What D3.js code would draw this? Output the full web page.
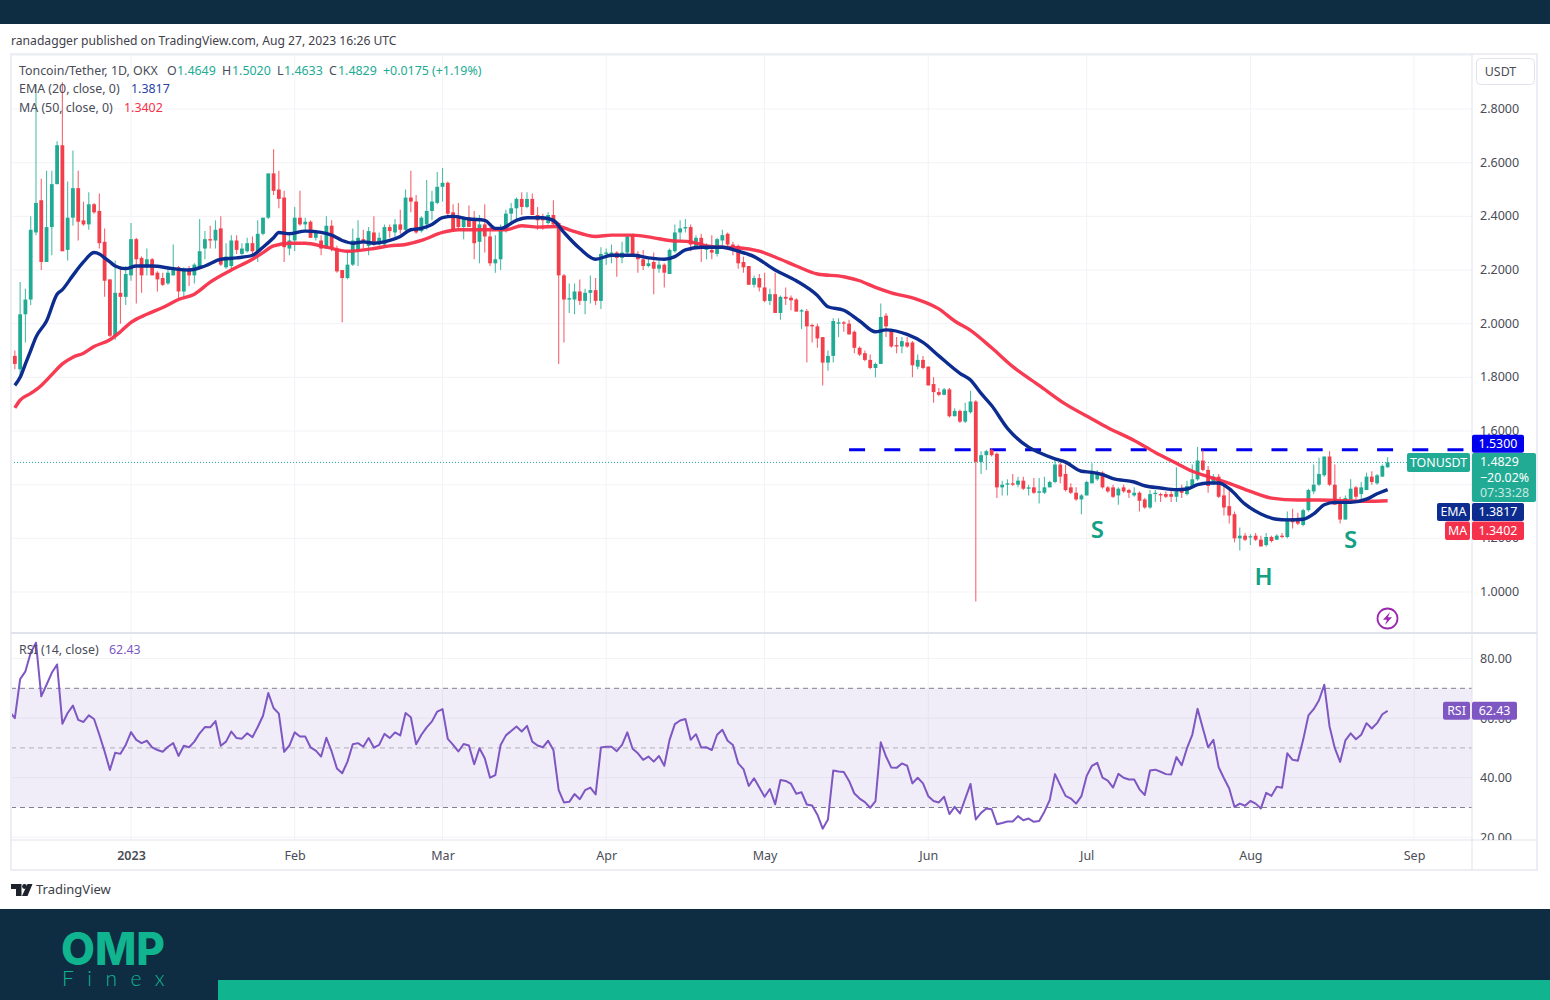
<!DOCTYPE html>
<html lang="en">
<head>
<meta charset="utf-8">
<title>TONUSDT</title>
<script src="https://d3js.org/d3.v7.min.js"></script>
<style>
  html, body { margin: 0; background: #fff; }
  svg { display: block; }
  text { font-family: "Noto Sans", sans-serif; }
</style>
</head>
<body>
<svg width="1550" height="1000"></svg>
<script>
// days are counted from 1 Jan 2023, the first candle is 10 Dec 2022
var firstDay = -22;
var opens = [
1.88,1.83,2.035,2.09,2.34,2.46,2.23,2.36,2.52,2.665,
2.275,2.395,2.505,2.385,2.37,2.445,2.42,2.305,2.165,1.955,
2.115,2.10,2.18,2.315,2.245,2.21,2.24,2.19,2.17,2.15,
2.18,2.21,2.12,2.205,2.18,2.21,2.28,2.315,2.31,2.355,
2.21,2.215,2.31,2.26,2.27,2.30,2.27,2.335,2.395,2.56,
2.50,2.47,2.28,2.31,2.395,2.37,2.38,2.32,2.31,2.28,
2.365,2.28,2.20,2.17,2.22,2.27,2.315,2.29,2.34,2.295,
2.295,2.36,2.34,2.37,2.35,2.47,2.455,2.345,2.37,2.42,
2.45,2.51,2.525,2.415,2.395,2.36,2.395,2.385,2.305,2.37,
2.325,2.225,2.24,2.355,2.41,2.43,2.465,2.435,2.465,2.405,
2.395,2.375,2.405,2.375,2.18,2.09,2.09,2.12,2.085,2.115,
2.125,2.085,2.26,2.26,2.265,2.245,2.265,2.33,2.26,2.24,
2.215,2.23,2.205,2.22,2.185,2.27,2.34,2.355,2.36,2.285,
2.32,2.275,2.275,2.26,2.31,2.335,2.295,2.29,2.23,2.215,
2.145,2.17,2.135,2.085,2.11,2.04,2.10,2.097,2.09,2.045,
2.047,1.995,1.99,1.95,1.855,1.88,2.0,2.005,2.0,1.97,
1.91,1.89,1.865,1.835,1.85,2.03,1.975,1.92,1.915,1.93,
1.93,1.84,1.865,1.84,1.775,1.745,1.735,1.755,1.655,1.675,
1.635,1.67,1.71,1.485,1.51,1.53,1.515,1.39,1.40,1.405,
1.40,1.415,1.385,1.39,1.37,1.37,1.39,1.41,1.475,1.44,
1.39,1.37,1.345,1.36,1.405,1.42,1.445,1.39,1.39,1.36,
1.39,1.38,1.36,1.37,1.345,1.315,1.365,1.365,1.365,1.365,
1.355,1.385,1.365,1.395,1.42,1.49,1.455,1.405,1.43,1.36,
1.32,1.29,1.20,1.21,1.205,1.21,1.195,1.175,1.205,1.195,
1.21,1.205,1.275,1.273,1.25,1.305,1.375,1.40,1.435,1.505,
1.40,1.335,1.27,1.345,1.39,1.365,1.38,1.43,1.405,1.43,
1.4649];
var highs = [
1.90,2.155,2.13,2.40,2.89,2.54,2.57,2.57,2.68,2.90,
2.53,2.645,2.57,2.455,2.49,2.45,2.485,2.355,2.165,2.235,
2.215,2.215,2.375,2.32,2.25,2.28,2.245,2.195,2.19,2.21,
2.295,2.215,2.21,2.215,2.225,2.39,2.345,2.365,2.385,2.40,
2.30,2.33,2.33,2.30,2.32,2.325,2.385,2.395,2.56,2.65,
2.57,2.495,2.33,2.435,2.495,2.395,2.385,2.35,2.33,2.40,
2.385,2.29,2.20,2.265,2.355,2.385,2.35,2.36,2.40,2.34,
2.37,2.37,2.39,2.425,2.50,2.57,2.48,2.40,2.535,2.495,
2.565,2.58,2.53,2.445,2.45,2.40,2.44,2.42,2.405,2.445,
2.36,2.33,2.37,2.425,2.45,2.47,2.49,2.49,2.485,2.435,
2.41,2.415,2.46,2.38,2.185,2.15,2.15,2.165,2.13,2.18,
2.17,2.285,2.28,2.295,2.27,2.305,2.33,2.335,2.27,2.275,
2.245,2.265,2.235,2.225,2.28,2.37,2.385,2.39,2.37,2.33,
2.335,2.30,2.33,2.32,2.35,2.34,2.305,2.295,2.25,2.215,
2.18,2.185,2.19,2.13,2.19,2.105,2.135,2.105,2.095,2.055,
2.055,2.0,2.0,1.95,1.90,2.02,2.02,2.01,2.015,1.975,
1.915,1.90,1.885,1.855,2.075,2.04,1.98,1.95,1.95,1.95,
1.935,1.885,1.88,1.84,1.80,1.76,1.76,1.76,1.685,1.68,
1.705,1.75,1.715,1.525,1.53,1.535,1.52,1.415,1.42,1.44,
1.43,1.43,1.40,1.425,1.425,1.43,1.415,1.50,1.495,1.475,
1.405,1.39,1.365,1.415,1.48,1.455,1.45,1.395,1.40,1.39,
1.40,1.385,1.39,1.375,1.35,1.38,1.38,1.37,1.375,1.385,
1.465,1.40,1.415,1.475,1.54,1.53,1.47,1.44,1.44,1.40,
1.38,1.30,1.24,1.22,1.215,1.22,1.21,1.22,1.21,1.215,
1.22,1.30,1.31,1.295,1.31,1.385,1.475,1.50,1.505,1.525,
1.475,1.355,1.36,1.42,1.395,1.41,1.445,1.45,1.44,1.475,
1.502];
var lows = [
1.83,1.80,1.93,2.07,2.33,2.20,2.23,2.255,2.52,2.27,
2.235,2.365,2.31,2.365,2.35,2.41,2.28,2.10,1.95,1.94,
2.0,2.07,2.16,2.075,2.115,2.18,2.18,2.12,2.14,2.145,
2.18,2.09,2.10,2.14,2.15,2.205,2.24,2.28,2.28,2.215,
2.205,2.20,2.26,2.255,2.265,2.25,2.23,2.33,2.39,2.48,
2.43,2.23,2.255,2.27,2.365,2.345,2.32,2.31,2.255,2.28,
2.27,2.19,2.005,2.165,2.215,2.215,2.28,2.255,2.29,2.29,
2.29,2.32,2.32,2.335,2.345,2.415,2.335,2.34,2.35,2.385,
2.445,2.455,2.405,2.345,2.355,2.315,2.36,2.24,2.225,2.265,
2.215,2.19,2.20,2.34,2.37,2.39,2.405,2.43,2.405,2.35,
2.35,2.37,2.365,1.85,1.93,2.04,2.035,2.07,2.035,2.075,
2.07,2.055,2.22,2.225,2.175,2.225,2.26,2.25,2.19,2.20,
2.21,2.11,2.19,2.135,2.185,2.265,2.305,2.34,2.27,2.28,
2.23,2.24,2.24,2.25,2.28,2.275,2.255,2.205,2.19,2.145,
2.135,2.12,2.08,2.07,2.04,2.015,2.07,2.05,2.045,1.98,
1.855,1.93,1.91,1.77,1.825,1.855,1.95,1.97,1.96,1.89,
1.88,1.86,1.83,1.80,1.85,1.95,1.91,1.89,1.89,1.91,
1.80,1.83,1.83,1.77,1.705,1.73,1.733,1.65,1.655,1.63,
1.63,1.665,0.965,1.44,1.455,1.505,1.35,1.36,1.36,1.395,
1.39,1.38,1.36,1.365,1.33,1.365,1.39,1.405,1.405,1.375,
1.365,1.34,1.29,1.36,1.405,1.415,1.385,1.37,1.35,1.325,
1.37,1.35,1.355,1.30,1.31,1.31,1.335,1.335,1.35,1.335,
1.335,1.35,1.36,1.39,1.415,1.45,1.37,1.40,1.35,1.285,
1.255,1.185,1.155,1.19,1.175,1.19,1.17,1.17,1.185,1.195,
1.20,1.20,1.237,1.25,1.245,1.30,1.365,1.395,1.43,1.395,
1.325,1.255,1.27,1.345,1.335,1.335,1.38,1.40,1.40,1.43,
1.4633];
var closes = [
1.85,2.035,2.09,2.35,2.45,2.23,2.36,2.52,2.665,2.27,
2.395,2.505,2.38,2.37,2.445,2.415,2.30,2.16,1.955,2.115,
2.10,2.185,2.315,2.24,2.18,2.24,2.18,2.165,2.145,2.19,
2.21,2.12,2.205,2.18,2.22,2.27,2.315,2.31,2.35,2.22,
2.25,2.31,2.275,2.28,2.30,2.27,2.335,2.395,2.56,2.495,
2.465,2.285,2.31,2.395,2.37,2.38,2.32,2.34,2.28,2.365,
2.28,2.195,2.17,2.22,2.31,2.32,2.30,2.345,2.295,2.32,
2.36,2.345,2.37,2.35,2.47,2.455,2.34,2.395,2.42,2.455,
2.51,2.525,2.41,2.35,2.36,2.395,2.36,2.30,2.37,2.325,
2.225,2.24,2.355,2.41,2.43,2.465,2.435,2.465,2.405,2.385,
2.385,2.405,2.37,2.18,2.09,2.095,2.12,2.085,2.115,2.125,
2.085,2.26,2.265,2.265,2.245,2.265,2.325,2.255,2.24,2.215,
2.225,2.205,2.22,2.19,2.275,2.34,2.355,2.36,2.295,2.32,
2.29,2.29,2.265,2.315,2.33,2.295,2.285,2.225,2.21,2.145,
2.17,2.135,2.085,2.11,2.04,2.10,2.093,2.087,2.045,2.05,
1.99,1.99,1.945,1.855,1.88,2.01,2.005,2.0,1.96,1.91,
1.885,1.865,1.835,1.85,2.025,1.99,1.915,1.915,1.935,1.915,
1.845,1.865,1.835,1.77,1.745,1.735,1.755,1.655,1.675,1.635,
1.675,1.71,1.485,1.51,1.525,1.51,1.39,1.40,1.405,1.40,
1.415,1.385,1.39,1.37,1.375,1.39,1.41,1.475,1.43,1.38,
1.37,1.345,1.36,1.41,1.445,1.44,1.39,1.375,1.355,1.385,
1.375,1.37,1.37,1.34,1.315,1.365,1.37,1.36,1.355,1.355,
1.375,1.37,1.395,1.42,1.49,1.455,1.395,1.43,1.355,1.315,
1.285,1.20,1.21,1.195,1.208,1.195,1.17,1.205,1.19,1.21,
1.205,1.275,1.26,1.255,1.305,1.38,1.40,1.44,1.505,1.40,
1.325,1.27,1.35,1.385,1.355,1.39,1.43,1.41,1.435,1.47,
1.4829];

var emaDays = [-22,-21,-20,-19,-18,-16,-14,-13,-11,-9,-7,-6,-5,-4,-3,-1,1,4,8,11,14,17,20,23,25,27,28,30,33,36,38,40,42,44,46,49,51,53,55,57,59,61,64,67,69,70,73,75,78,80,82,85,88,91,95,98,101,103,105,108,112,115,118,122,126,130,132,135,138,141,143,147,150,153,157,159,161,163,166,170,172,175,177,180,182,184,186,190,192,195,198,200,202,204,206,208,211,214,217,219,222,224,226,228,231,234,236,238];
var emaValues = [1.77,1.80,1.85,1.90,1.95,2.01,2.11,2.127,2.18,2.23,2.265,2.26,2.245,2.23,2.215,2.205,2.215,2.215,2.205,2.20,2.215,2.24,2.245,2.255,2.285,2.32,2.34,2.335,2.345,2.34,2.33,2.31,2.30,2.305,2.30,2.31,2.325,2.35,2.355,2.37,2.395,2.40,2.39,2.385,2.355,2.355,2.385,2.395,2.395,2.385,2.34,2.28,2.24,2.255,2.255,2.245,2.24,2.25,2.275,2.285,2.285,2.27,2.25,2.20,2.16,2.105,2.063,2.05,2.01,1.97,1.977,1.96,1.93,1.88,1.815,1.79,1.74,1.695,1.61,1.54,1.52,1.496,1.484,1.45,1.446,1.4375,1.4225,1.41,1.396,1.3875,1.381,1.384,1.40,1.406,1.406,1.385,1.3275,1.291,1.271,1.269,1.271,1.291,1.325,1.334,1.334,1.346,1.366,1.3817];
var maDays = [-22,-21,-19,-17,-15,-13,-11,-9,-7,-4,-2,0,3,6,9,12,15,19,23,25,27,30,33,37,41,46,49,52,55,59,62,67,71,74,77,81,83,88,91,95,99,102,106,109,112,115,119,123,126,130,135,138,141,144,149,153,156,159,163,167,172,177,182,185,190,194,198,201,204,208,212,216,221,225,230,234,238];
var maValues = [1.686,1.715,1.74,1.77,1.81,1.85,1.875,1.89,1.915,1.94,1.97,2.005,2.035,2.06,2.09,2.11,2.155,2.20,2.24,2.265,2.29,2.30,2.30,2.285,2.27,2.28,2.29,2.295,2.31,2.34,2.35,2.35,2.35,2.365,2.36,2.362,2.35,2.325,2.33,2.33,2.32,2.31,2.305,2.29,2.285,2.283,2.27,2.24,2.215,2.185,2.175,2.16,2.135,2.115,2.09,2.055,2.01,1.975,1.91,1.84,1.77,1.70,1.645,1.6125,1.565,1.52,1.48,1.45,1.43,1.405,1.375,1.35,1.343,1.343,1.34,1.338,1.3402];

// RSI starts one day before the first full candle, that point sits at the chart edge
var rsiFirstDay = -23;
var rsiValues = [
62.2,60,73.1,75.7,81.9,85.3,67.3,71.2,75.2,78,58.1,61.7,64.2,59.4,58.7,60.9,59.7,54.4,48.8,42.6,
48.4,48,51,55.3,52.7,51.6,52.4,50.2,49.3,48.7,50.4,51.6,47.3,50.7,50.2,52.1,54.9,57,56.9,59,
50.7,52.1,55.5,53.3,53.1,54.9,53.6,57,60.8,68.4,63.4,61.5,48.7,50.8,55.2,53.8,53.8,50.2,49.1,47.1,
53.4,48.8,43.1,41.5,45.4,51.2,51.6,50.4,53.3,50.1,51,54.7,53.3,55.2,54.2,61.7,60.3,51.2,54.4,56.9,
58.9,62.2,63,53,51,48.8,51.3,50.8,44.5,49.9,46.5,40,40.9,51,54.2,55.7,57.2,55.5,57.4,52.1,
50.8,50.2,52.4,49.3,35.8,31.7,31.9,34.5,32.8,35.8,36.7,34.4,50.1,50.4,50.4,48.9,51,55.2,49.7,48.2,
46,47.1,45.4,47.3,44,52.7,58,59.2,59.7,52.7,54.6,50.1,50.2,49.3,54.4,56.1,52.4,51,44.8,42.9,
37.2,39.8,36.7,33.6,36.2,31.1,39.2,38.9,37.9,34.6,35.1,31,30.7,27.6,22.9,26,42.4,42.1,41.9,38.9,
34.7,33,31.8,29.9,32.1,51.9,47.1,43.4,43.3,44.8,44,38.1,40,38.1,33.8,32.2,31.7,33.6,27.8,30.2,
28,33,37.9,26,28.2,29.7,29.4,24.4,24.8,25.3,25.3,27.1,25.7,26.3,25.2,25.5,28.6,32.5,41.2,37.5,
33.9,33,31.3,33.8,40.6,44,45,40,39,36.7,41.3,40,39.4,39.4,36.1,34.2,42.4,42.7,42,41.2,
41.1,46.9,44.2,49.9,54.4,63.1,56.6,50.2,52.7,43.5,39.8,36.4,30.2,31.3,30.6,32.2,31.3,29.7,34.9,33.9,
37,36.6,48.2,46,45.7,52.7,60.9,63,66,71.2,57.2,49.9,45.3,52.5,54.9,52.9,54.4,58.3,56.5,58.3,
61.3,62.43];

var monthDays = [0,31,59,90,120,151,181,212,243];
var monthLabels = ["2023","Feb","Mar","Apr","May","Jun","Jul","Aug","Sep"];
var priceTicks = [1.0,1.2,1.4,1.6,1.8,2.0,2.2,2.4,2.6,2.8];
var rsiTicks = [20,40,60,80];
var rsiLevels = [70,50,30];
var resistance = 1.53, resistanceFrom = 136, resistanceTo = 252.8;
var lastClose = 1.4829, lastEma = 1.3817, lastMa = 1.3402, lastRsi = 62.43;

var teal = "#22ab94", red = "#f23f4b", navy = "#0c2d8f", maRed = "#f5304a", purple = "#7e57c2";
var ink = "#4a4c57", gridCol = "#f2f3f7", lineCol = "#e0e3eb", dark = "#0e2d42", brand = "#10b48f";

var L = 11, R = 1472, frameR = 1537, priceTop = 54, priceBottom = 632, rsiTop = 634, rsiBottom = 840, frameBottom = 870;

var x = d3.scaleLinear().domain([-22.73, 253.98]).range([L, R]);
var y = d3.scaleLinear().domain([0.851, 3.005]).range([priceBottom, priceTop]);
var yr = d3.scaleLinear().domain([30 - (rsiBottom - 807.5) / 2.98, 30 + (807.5 - rsiTop) / 2.98]).range([rsiBottom, rsiTop]);

var svg = d3.select("svg");
var defs = svg.append("defs");
defs.append("clipPath").attr("id", "pricePane").append("rect").attr("x", L).attr("y", priceTop).attr("width", R - L).attr("height", priceBottom - priceTop);
defs.append("clipPath").attr("id", "rsiPane").append("rect").attr("x", L).attr("y", rsiTop).attr("width", R - L).attr("height", rsiBottom - rsiTop);
defs.append("clipPath").attr("id", "rsiAxis").append("rect").attr("x", 0).attr("y", rsiTop).attr("width", frameR - R).attr("height", rsiBottom - rsiTop);

// page bands
svg.append("rect").attr("width", 1550).attr("height", 24).attr("fill", dark);
svg.append("rect").attr("y", 909).attr("width", 1550).attr("height", 91).attr("fill", dark);
svg.append("rect").attr("x", 218).attr("y", 980).attr("width", 1332).attr("height", 20).attr("fill", brand);
svg.append("text").attr("x", 61).attr("y", 965).attr("font-size", 45).attr("font-weight", 800).attr("fill", brand)
  .style("font-family", "Inter").attr("textLength", 104).attr("lengthAdjust", "spacingAndGlyphs").text("OMP");
svg.append("text").attr("x", 62).attr("y", 986).attr("font-size", 21).attr("font-weight", 300).attr("fill", brand)
  .attr("letter-spacing", 13.5).style("font-family", "Lato").text("Finex");

svg.append("text").attr("x", 11).attr("y", 45).attr("font-size", 12.15).attr("fill", "#3f414b")
  .text("ranadagger published on TradingView.com, Aug 27, 2023 16:26 UTC");

// grid
var grid = svg.append("g");
grid.selectAll(".v").data(monthDays).enter().append("line")
  .attr("x1", function (d) { return x(d); }).attr("x2", function (d) { return x(d); })
  .attr("y1", priceTop).attr("y2", rsiBottom).attr("stroke", gridCol);
grid.selectAll(".h").data(priceTicks.concat([3.0])).enter().append("line")
  .attr("x1", L).attr("x2", R)
  .attr("y1", function (d) { return y(d); }).attr("y2", function (d) { return y(d); }).attr("stroke", gridCol);
grid.selectAll(".r").data(rsiTicks).enter().append("line")
  .attr("x1", L).attr("x2", R)
  .attr("y1", function (d) { return yr(d); }).attr("y2", function (d) { return yr(d); }).attr("stroke", gridCol);

// rsi band, levels and line
var rsiG = svg.append("g").attr("clip-path", "url(#rsiPane)");
rsiG.append("rect").attr("x", L).attr("width", R - L).attr("y", yr(70)).attr("height", yr(30) - yr(70)).attr("fill", purple).attr("fill-opacity", 0.11);
rsiG.selectAll(".lvl").data(rsiLevels).enter().append("line")
  .attr("x1", L).attr("x2", R)
  .attr("y1", function (d) { return yr(d); }).attr("y2", function (d) { return yr(d); })
  .attr("stroke", "#787b86").attr("stroke-dasharray", "5 4").attr("stroke-opacity", function (d) { return d == 50 ? 0.55 : 0.95; });
rsiG.append("path").datum(rsiValues)
  .attr("fill", "none").attr("stroke", purple).attr("stroke-width", 2).attr("stroke-linejoin", "round")
  .attr("d", d3.line().x(function (d, i) { return x(rsiFirstDay + i); }).y(function (d) { return yr(d); }));

// price pane
var g = svg.append("g").attr("clip-path", "url(#pricePane)");
g.append("line").attr("x1", L).attr("x2", R).attr("y1", y(lastClose)).attr("y2", y(lastClose))
  .attr("stroke", teal).attr("stroke-dasharray", "1 2");
g.append("line").attr("x1", x(resistanceFrom)).attr("x2", x(resistanceTo)).attr("y1", y(resistance)).attr("y2", y(resistance))
  .attr("stroke", "#0000ee").attr("stroke-width", 3).attr("stroke-dasharray", "16 19.2");

var days = opens.map(function (d, i) { return firstDay + i; });
var candle = g.selectAll(".candle").data(days).enter().append("g").attr("class", "candle");
function colour(d) { var i = d - firstDay; return closes[i] >= opens[i] ? teal : red; }
candle.append("line")
  .attr("x1", function (d) { return x(d); }).attr("x2", function (d) { return x(d); })
  .attr("y1", function (d) { return y(highs[d - firstDay]); })
  .attr("y2", function (d) { return y(lows[d - firstDay]); })
  .attr("stroke", colour).attr("stroke-width", 1.1).attr("stroke-opacity", 0.8);
candle.append("rect")
  .attr("x", function (d) { return x(d) - 1.9; }).attr("width", 3.8)
  .attr("y", function (d) { var i = d - firstDay; return y(Math.max(opens[i], closes[i])); })
  .attr("height", function (d) { var i = d - firstDay; return Math.max(1.2, Math.abs(y(opens[i]) - y(closes[i]))); })
  .attr("fill", colour);

var avgLine = d3.line().curve(d3.curveMonotoneX).x(function (d) { return x(d[0]); }).y(function (d) { return y(d[1]); });
g.append("path").datum(d3.zip(maDays, maValues)).attr("fill", "none").attr("stroke", maRed).attr("stroke-width", 3.4).attr("stroke-opacity", 0.95).attr("d", avgLine);
g.append("path").datum(d3.zip(emaDays, emaValues)).attr("fill", "none").attr("stroke", navy).attr("stroke-width", 3.4).attr("d", avgLine);

// head and shoulders letters, placed on the price and day they were drawn at
var notes = [["S", 183, 1.225], ["H", 214.5, 1.05], ["S", 231, 1.19]];
svg.selectAll(".note").data(notes).enter().append("text")
  .attr("x", function (d) { return x(d[1]); }).attr("y", function (d) { return y(d[2]); })
  .attr("text-anchor", "middle").attr("dominant-baseline", "middle")
  .attr("font-size", 24).attr("font-weight", 600).attr("fill", "#13a085")
  .text(function (d) { return d[0]; });

// lightning badge
var badge = svg.append("g").attr("transform", "translate(1387.5,618.5)");
badge.append("circle").attr("r", 10).attr("fill", "#fff").attr("stroke", "#9c27b0").attr("stroke-width", 1.8);
badge.append("path").attr("d", "M2.5,-6.5 L-4.5,1.2 L-0.5,1.2 L-2.5,6.5 L4.5,-1.2 L0.5,-1.2 Z").attr("fill", "#9c27b0");

// frame lines
svg.append("rect").attr("x", L).attr("y", priceTop).attr("width", frameR - L).attr("height", frameBottom - priceTop).attr("fill", "none").attr("stroke", "#eceef3").attr("stroke-width", 2);
svg.append("line").attr("x1", L).attr("x2", frameR).attr("y1", 633).attr("y2", 633).attr("stroke", lineCol).attr("stroke-width", 2);
svg.append("line").attr("x1", L).attr("x2", frameR).attr("y1", rsiBottom).attr("y2", rsiBottom).attr("stroke", lineCol);
svg.append("line").attr("x1", R).attr("x2", R).attr("y1", priceTop).attr("y2", frameBottom).attr("stroke", lineCol);

// axes
function plainAxis(sel) {
  sel.select(".domain").remove();
  sel.selectAll("text").attr("fill", ink).attr("font-size", 12.5).style("font-family", '"Noto Sans", sans-serif');
}
svg.append("g").attr("transform", "translate(" + R + ",-0.5)")
  .call(d3.axisRight(y).tickValues(priceTicks).tickFormat(d3.format(".4f")).tickSize(0).tickPadding(8))
  .call(plainAxis);
svg.append("g").attr("transform", "translate(" + R + ",0)").attr("clip-path", "url(#rsiAxis)")
  .call(d3.axisRight(yr).tickValues(rsiTicks).tickFormat(d3.format(".2f")).tickSize(0).tickPadding(8))
  .call(plainAxis);
svg.append("g").attr("transform", "translate(0," + rsiBottom + ")")
  .call(d3.axisBottom(x).tickValues(monthDays).tickFormat(function (d, i) { return monthLabels[i]; }).tickSize(0).tickPadding(11))
  .call(plainAxis)
  .selectAll("text").attr("font-weight", function (d) { return d == 0 ? 600 : 400; });

// legend rows
function legendRow(yPos, parts) {
  parts.forEach(function (p) {
    svg.append("text").attr("x", p[0]).attr("y", yPos + 1.5).attr("dominant-baseline", "middle")
      .attr("font-size", 12.4).attr("fill", p[2]).text(p[1]);
  });
}
legendRow(70, [[19, "Toncoin/Tether, 1D, OKX", ink], [167, "O", ink], [177, "1.4649", teal], [222, "H", ink], [232, "1.5020", teal], [277, "L", ink], [284, "1.4633", teal], [329, "C", ink], [338, "1.4829", teal], [383, "+0.0175 (+1.19%)", teal]]);
legendRow(88.5, [[19, "EMA (20, close, 0)", ink], [131, "1.3817", "#2a45a5"]]);
legendRow(107, [[19, "MA (50, close, 0)", ink], [124, "1.3402", maRed]]);
legendRow(649, [[19, "RSI (14, close)", ink], [109, "62.43", purple]]);

// USDT button
svg.append("rect").attr("x", 1476.5).attr("y", 58.5).attr("width", 58).attr("height", 26).attr("rx", 4).attr("fill", "#fff").attr("stroke", lineCol);
svg.append("text").attr("x", 1500.5).attr("y", 73).attr("text-anchor", "middle").attr("dominant-baseline", "middle").attr("font-size", 12.4).attr("fill", ink).text("USDT");

// price tags on the axis
function tag(left, top, w, h, fill, label) {
  svg.append("rect").attr("x", left).attr("y", top).attr("width", w).attr("height", h).attr("rx", 2).attr("fill", fill);
  if (label) svg.append("text").attr("x", left + w / 2).attr("y", top + h / 2 + 1).attr("text-anchor", "middle")
    .attr("dominant-baseline", "middle").attr("font-size", 12.4).attr("fill", "#fff").text(label);
}
tag(R, y(resistance) - 15, 52, 18, "#0000ee", d3.format(".4f")(resistance));
tag(1407, y(lastClose) - 9.5, 63, 19, teal, "TONUSDT");
tag(R, y(lastClose) - 9.5, 64, 49, teal);
[["1.4829", 0.5, 1], ["\u221220.02%", 16, 1], ["07:33:28", 31.5, 0.75]].forEach(function (t) {
  svg.append("text").attr("x", 1480).attr("y", y(lastClose) + t[1]).attr("dominant-baseline", "middle")
    .attr("font-size", 12.4).attr("fill", "#fff").attr("fill-opacity", t[2]).text(t[0]);
});
// EMA and MA tags are stacked below the price block, not on their own values
tag(1437, 503, 33, 18, navy, "EMA");
tag(R, 503, 52, 18, navy, d3.format(".4f")(lastEma));
tag(1445, 521.5, 25, 18.5, maRed, "MA");
tag(R, 521.5, 52, 18.5, maRed, d3.format(".4f")(lastMa));
tag(1443, yr(lastRsi) - 9, 27, 18, purple, "RSI");
tag(R, yr(lastRsi) - 9, 45, 18, purple, d3.format(".2f")(lastRsi));

// TradingView mark
var logo = svg.append("g").attr("fill", "#1e222d");
logo.append("path").attr("d", "M11,884 H21.5 V896 H16 V889 H11 Z");
logo.append("circle").attr("cx", 24.5).attr("cy", 886.5).attr("r", 2.4);
logo.append("path").attr("d", "M27.5,884 H32.5 L27.5,896 H22 Z");
svg.append("text").attr("x", 36).attr("y", 890.5).attr("dominant-baseline", "middle").attr("font-size", 13).attr("fill", "#3a3d47").text("TradingView");
</script>
</body>
</html>
